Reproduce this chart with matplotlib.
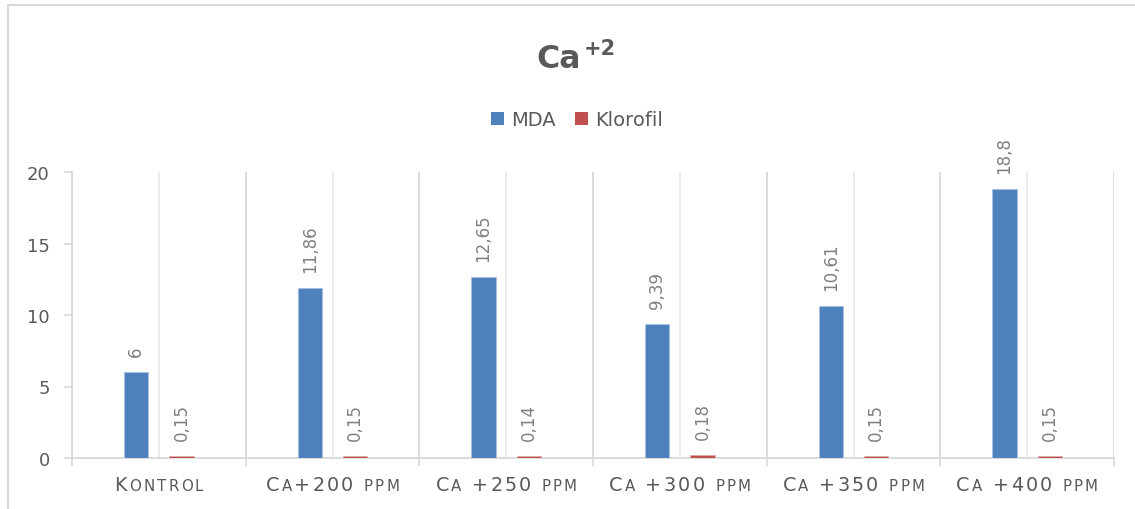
import matplotlib
matplotlib.use("Agg")
import matplotlib.pyplot as plt
import numpy as np
from matplotlib.patches import Patch
from matplotlib.lines import Line2D
from matplotlib.offsetbox import TextArea, HPacker, AnnotationBbox

categories = ["Kontrol", "Ca+200 ppm", "Ca +250 ppm", "Ca +300 ppm", "Ca +350 ppm", "Ca +400 ppm"]
mda = [6, 11.86, 12.65, 9.39, 10.61, 18.8]
klorofil = [0.15, 0.15, 0.14, 0.18, 0.15, 0.15]
series_names = ["MDA", "Klorofil"]
yticks = [0, 5, 10, 15, 20]

BLUE = "#4f81bd"
RED = "#c0504d"
TXT = "#595959"
LBL = "#808080"
GRID = "#d9d9d9"

W, H = 1135, 510
fig = plt.figure(figsize=(W / 100, H / 100), dpi=100)
fig.patch.set_facecolor("white")

# outer chart border (top + left visible only)
fig.add_artist(Line2D([8 / W, 1.0], [1 - 6 / H, 1 - 6 / H], transform=fig.transFigure, color=GRID, lw=1.5))
fig.add_artist(Line2D([8 / W, 8 / W], [1 - 6 / H, 0.0], transform=fig.transFigure, color=GRID, lw=1.5))

ax = fig.add_axes([72 / W, 1 - 459 / H, (1114 - 72) / W, (459 - 173) / H])
x = np.arange(len(categories))
off = 0.13
bw = 0.14

# gridlines
for b in np.arange(-0.5, len(categories) + 0.5, 1.0):
    ax.axvline(b, color=GRID, lw=1.3, zorder=0)
for c in x:
    ax.axvline(c, color="#e8e8e8", lw=1.3, zorder=0)

ax.bar(x - off, mda, width=bw, color=BLUE, edgecolor="#a9c1e0", lw=0.6, zorder=3)
ax.bar(x + off, klorofil, width=bw, color=RED, edgecolor="#e0a9a8", lw=0.6, zorder=3)

def fmt(v):
    return ("%g" % v).replace(".", ",")

for xi, v in zip(x, mda):
    ax.annotate(fmt(v), xy=(xi - off, v), xytext=(0, 11.5), textcoords="offset points",
                rotation=90, ha="center", va="bottom", fontsize=12, color=LBL, annotation_clip=False)
for xi, v in zip(x, klorofil):
    ax.annotate(fmt(v), xy=(xi + off, v), xytext=(0, 11.5), textcoords="offset points",
                rotation=90, ha="center", va="bottom", fontsize=12, color=LBL, annotation_clip=False)

ax.set_xlim(-0.5, len(categories) - 0.5)
ax.set_ylim(0, 20)
ax.set_yticks(yticks)
ax.set_yticklabels([str(t) for t in yticks])
ax.tick_params(axis="y", direction="out", length=6, width=1.2, color=GRID, labelsize=13, labelcolor=TXT, pad=10)

ax.set_xticks(np.arange(-0.5, len(categories), 1.0))
ax.set_xticklabels([])
ax.tick_params(axis="x", direction="out", length=6, width=1.2, color=GRID)

for s in ["top", "right"]:
    ax.spines[s].set_visible(False)
for s in ["left", "bottom"]:
    ax.spines[s].set_color(GRID)
    ax.spines[s].set_linewidth(1.3)
ax.set_facecolor("none")

# small-caps category labels
for xi, lab in zip(x, categories):
    parts = []
    for ch in lab:
        if ch.isalpha() and ch.islower():
            parts.append(TextArea(ch.upper(), textprops=dict(fontsize=10.8, color=TXT)))
        else:
            parts.append(TextArea(ch, textprops=dict(fontsize=13.8, color=TXT)))
    pack = HPacker(children=parts, align="baseline", pad=0, sep=1.6)
    ab = AnnotationBbox(pack, (xi, -0.094), xycoords=("data", "axes fraction"),
                        box_alignment=(0.5, 0.5), frameon=False, pad=0, annotation_clip=False)
    ax.add_artist(ab)

# title with superscript
fig.text(581 / W, 1 - 68 / H, "Ca", ha="right", va="baseline", fontsize=22.7,
         fontweight="bold", color=TXT)
fig.text(584 / W, 1 - 55 / H, "+2", ha="left", va="baseline", fontsize=15,
         fontweight="bold", color=TXT)

handles = [Patch(facecolor=BLUE), Patch(facecolor=RED)]
fig.legend(handles, series_names, loc="center", bbox_to_anchor=(577 / W, 1 - 121 / H), ncol=2,
           frameon=False, fontsize=14, labelcolor=TXT, handlelength=0.68, handleheight=0.68,
           handletextpad=0.35, columnspacing=1.0, borderaxespad=0, borderpad=0)

fig.savefig("out.png", dpi=100, facecolor="white")
